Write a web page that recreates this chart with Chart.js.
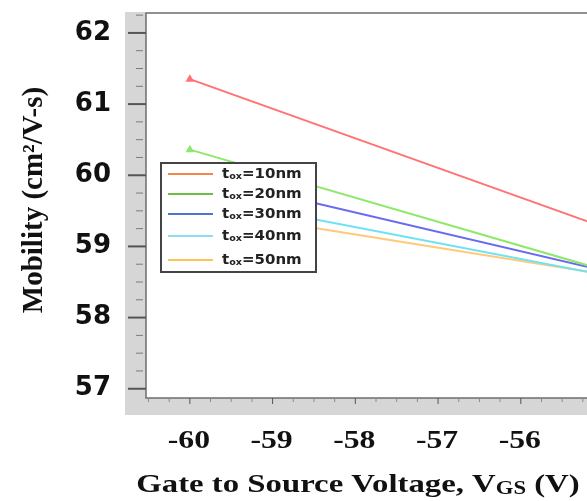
<!DOCTYPE html>
<html>
<head>
<meta charset="utf-8">
<script src="https://cdn.jsdelivr.net/npm/chart.js@4.4.1/dist/chart.umd.min.js"></script>
<style>
  html, body { margin: 0; padding: 0; background: #fff; }
  #wrap { width: 587px; height: 501px; }
</style>
</head>
<body>
<div id="wrap"><canvas id="mobilityChart" width="587" height="501"></canvas></div>
<script>
// gate voltage end points (V) and mobility (cm2/V-s)
const vgs = [-60, -55];
const tox10 = [61.35, 59.27];
const tox20 = [60.36, 58.67];
const tox30 = [60.02, 58.66];
const tox40 = [59.72, 58.60];
const tox50 = [59.54, 58.61];

const seriesNames = ['10nm', '20nm', '30nm', '40nm', '50nm'];
const lineColors = ['#ff7272', '#8ee86a', '#6a6af0', '#6fe2f2', '#ffc978'];
const legendColors = ['#f4864a', '#6cbf44', '#4f74d2', '#8fdcf2', '#ffc452'];

const xTickLabels = [-60, -59, -58, -57, -56];
const yTickLabels = [57, 58, 59, 60, 61, 62];

function toPoints(vals) {
  return vals.map((v, i) => ({ x: vgs[i], y: v }));
}

const allSeries = [tox10, tox20, tox30, tox40, tox50];
const datasets = allSeries.map((vals, i) => ({
  label: 't_ox=' + seriesNames[i],
  data: toPoints(vals),
  borderColor: lineColors[i],
  backgroundColor: lineColors[i],
  borderWidth: 2,
  pointRadius: i < 2 ? [3, 0] : 0,
  pointStyle: 'triangle',
  tension: 0
}));

// quarter-volt / quarter-unit tick positions
function quarterTicks(s) {
  const t = [];
  for (let k = Math.ceil(s.min * 4); k <= Math.floor(s.max * 4); k++) t.push({ value: k / 4 });
  s.ticks = t;
}

function noPad(s) {
  s.paddingLeft = 0; s.paddingRight = 0; s.paddingTop = 0; s.paddingBottom = 0;
}

const SERIF = '"Liberation Serif", "Times New Roman", serif';
const SANS = '"DejaVu Sans", Verdana, sans-serif';

// gray frame, ticks, titles and boxed legend
const framePlugin = {
  id: 'frame',
  beforeDraw(chart) {
    const { ctx, chartArea: a } = chart;
    ctx.save();
    ctx.fillStyle = '#d6d6d6';
    ctx.fillRect(a.left - 21, a.top - 1, 21, a.bottom - a.top + 18);
    ctx.fillRect(a.left - 21, a.bottom, a.right - a.left + 21, 17);
    ctx.fillStyle = '#fff';
    ctx.fillRect(a.left, a.top, a.right - a.left, a.bottom - a.top);
    ctx.restore();
  },
  afterDatasetsDraw(chart) {
    const { ctx, chartArea: a, scales } = chart;
    ctx.save();
    // axis lines
    ctx.strokeStyle = '#6e6e6e';
    ctx.lineWidth = 1.5;
    ctx.beginPath();
    ctx.moveTo(a.right, a.top);
    ctx.lineTo(a.left, a.top);
    ctx.lineTo(a.left, a.bottom);
    ctx.lineTo(a.right, a.bottom);
    ctx.stroke();

    // y ticks
    scales.y.ticks.forEach(t => {
      const y = scales.y.getPixelForValue(t.value);
      const major = Math.abs(t.value - Math.round(t.value)) < 1e-6;
      ctx.strokeStyle = major ? '#555' : '#7a7a7a';
      ctx.lineWidth = major ? 2 : 1;
      ctx.beginPath();
      ctx.moveTo(a.left - (major ? 18 : 10), y);
      ctx.lineTo(a.left - (major ? 0 : 3), y);
      ctx.stroke();
    });
    // x ticks + labels (source figure is stretched sideways)
    scales.x.ticks.forEach(t => {
      const x = scales.x.getPixelForValue(t.value);
      const major = Math.abs(t.value - Math.round(t.value)) < 1e-6;
      ctx.strokeStyle = major ? '#555' : '#8a8a8a';
      ctx.lineWidth = 1;
      ctx.beginPath();
      ctx.moveTo(x, a.bottom);
      ctx.lineTo(x, a.bottom + (major ? 6 : 4));
      ctx.stroke();
      if (xTickLabels.includes(t.value)) {
        ctx.save();
        ctx.translate(x - 1, 448);
        ctx.scale(1.22, 1);
        ctx.fillStyle = '#111';
        ctx.textAlign = 'center';
        ctx.textBaseline = 'alphabetic';
        ctx.font = 'bold 26px ' + SERIF;
        ctx.fillText(String(t.value), 0, 0);
        ctx.restore();
      }
    });

    // legend box
    const lx = 161, ly = 163, lw = 155, lh = 109;
    ctx.fillStyle = '#fff';
    ctx.fillRect(lx, ly, lw, lh);
    ctx.strokeStyle = '#444';
    ctx.lineWidth = 2;
    ctx.strokeRect(lx, ly, lw, lh);
    const rows = [174, 194, 214, 236, 260];
    seriesNames.forEach((name, i) => {
      const ry = rows[i];
      ctx.strokeStyle = legendColors[i];
      ctx.lineWidth = 2;
      ctx.beginPath();
      ctx.moveTo(168, ry);
      ctx.lineTo(213, ry);
      ctx.stroke();
      ctx.save();
      ctx.translate(222, ry);
      ctx.scale(1.07, 1);
      ctx.fillStyle = '#222';
      ctx.textBaseline = 'middle';
      ctx.textAlign = 'left';
      ctx.font = 'bold 14px ' + SANS;
      ctx.fillText('t', 0, 0);
      let w = ctx.measureText('t').width;
      ctx.font = 'bold 9px ' + SANS;
      ctx.fillText('ox', w, 3);
      w += ctx.measureText('ox').width;
      ctx.font = 'bold 14px ' + SANS;
      ctx.fillText('=' + name, w, 0);
      ctx.restore();
    });
    ctx.restore();
  },
  afterDraw(chart) {
    const { ctx } = chart;
    ctx.save();
    ctx.fillStyle = '#111';
    ctx.textBaseline = 'alphabetic';
    // y title
    ctx.translate(42, 200);
    ctx.rotate(-Math.PI / 2);
    ctx.textAlign = 'center';
    ctx.font = 'bold 29px ' + SERIF;
    ctx.fillText('Mobility (cm\u00B2/V-s)', 0, 0);
    ctx.setTransform(1, 0, 0, 1, 0, 0);
    // x title with subscript
    const big = 'bold 26px ' + SERIF;
    const small = 'bold 18px ' + SERIF;
    const p1 = 'Gate to Source Voltage, V', p2 = 'GS', p3 = ' (V)';
    ctx.font = big; const w1 = ctx.measureText(p1).width; const w3 = ctx.measureText(p3).width;
    ctx.font = small; const w2 = ctx.measureText(p2).width;
    const sx = 1.26;
    ctx.translate(358 - sx * (w1 + w2 + w3) / 2, 492);
    ctx.scale(sx, 1);
    ctx.textAlign = 'left';
    let x = 0;
    ctx.font = big; ctx.fillText(p1, x, 0); x += w1;
    ctx.font = small; ctx.fillText(p2, x, 2); x += w2;
    ctx.font = big; ctx.fillText(p3, x, 0);
    ctx.restore();
  }
};

const chart = new Chart(document.getElementById('mobilityChart'), {
  type: 'line',
  data: { datasets: datasets },
  options: {
    responsive: false,
    animation: false,
    layout: { autoPadding: false, padding: { top: 13, right: 0, left: 0, bottom: 0 } },
    plugins: {
      legend: { display: false },
      tooltip: { enabled: false }
    },
    scales: {
      x: {
        type: 'linear',
        min: -60.53,
        max: -55.2,
        afterFit: s => { s.height = 103; noPad(s); },
        afterBuildTicks: quarterTicks,
        grid: { display: false, drawTicks: false },
        border: { display: false },
        ticks: { display: false }
      },
      y: {
        min: 56.87,
        max: 62.28,
        afterFit: s => { s.width = 146; noPad(s); },
        afterBuildTicks: quarterTicks,
        grid: { display: false, drawTicks: false },
        border: { display: false },
        ticks: {
          autoSkip: false,
          padding: 35,
          color: '#111',
          font: { family: SANS, size: 26, weight: 'bold' },
          callback: v => yTickLabels.includes(v) ? String(v) : ''
        }
      }
    }
  },
  plugins: [framePlugin]
});
</script>
</body>
</html>
